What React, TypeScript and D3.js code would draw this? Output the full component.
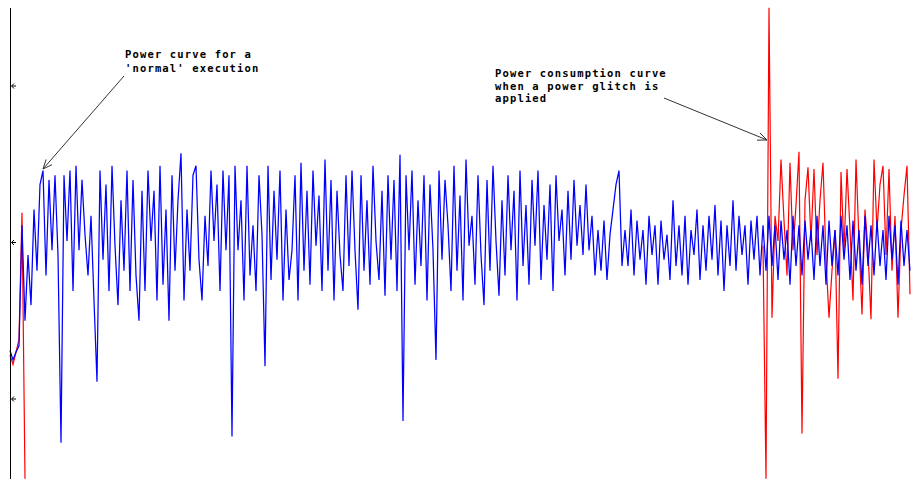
import React from "react";
import * as d3 from "d3";

// power trace samples (arbitrary units), one sample per time step
const blueValues = [
  81, 75, 80, 84, 161, 100, 142, 110, 171, 132,
  187, 196, 129, 190, 145, 193, 142, 22, 193, 151,
  196, 119, 199, 145, 190, 155, 129, 167, 113, 61,
  196, 139, 187, 119, 199, 148, 110, 177, 132, 196,
  119, 190, 129, 100, 183, 119, 196, 151, 183, 113,
  199, 123, 171, 100, 193, 132, 177, 207, 113, 171,
  132, 193, 199, 139, 113, 167, 135, 196, 151, 187,
  119, 196, 145, 193, 26, 199, 145, 177, 113, 199,
  129, 161, 119, 193, 155, 71, 199, 126, 183, 139,
  196, 113, 171, 126, 145, 193, 113, 201, 132, 183,
  123, 196, 148, 180, 119, 203, 132, 190, 113, 183,
  142, 119, 193, 135, 196, 145, 107, 193, 132, 177,
  123, 199, 151, 126, 183, 116, 193, 139, 190, 119,
  206, 36, 193, 145, 196, 123, 177, 135, 193, 113,
  187, 145, 75, 196, 139, 190, 161, 119, 199, 132,
  180, 113, 203, 148, 167, 123, 193, 142, 110, 190,
  132, 199, 151, 116, 177, 129, 193, 145, 183, 113,
  196, 135, 174, 123, 190, 148, 196, 126, 174, 139,
  187, 119, 193, 151, 171, 129, 183, 139, 190, 148,
  174, 142, 187, 145, 167, 129, 158, 132, 164, 126,
  155, 171, 187, 196, 135, 158, 135, 171, 129, 164,
  139, 158, 123, 167, 142, 161, 123, 164, 139, 155,
  126, 177, 135, 161, 129, 167, 123, 158, 142, 171,
  126, 161, 132, 167, 139, 174, 129, 164, 119, 161,
  135, 177, 132, 167, 142, 161, 123, 164, 139, 167,
  129, 161, 132, 167, 135, 161, 126, 164, 139, 158,
  123, 167, 135, 161, 129, 164, 139, 158, 126, 167,
  135, 161, 123, 164, 135, 158, 129, 167, 139, 161,
  126, 164, 132, 158, 123, 167, 135, 161, 129, 164,
  135, 158, 126, 167, 139, 161, 123, 164, 135, 158, 132,
];

// glitched run: only where it departs from the normal trace
const redStartIndex = 0;
const redStartValues = [78, 72, 80, 88, 169, -1];
const redGlitchIndex = 251;
const redGlitchValues = [
  148, -1, 300, 102, 167, 151, 203, 164, 129, 201,
  145, 174, 208, 28, 177, 198, 151, 197, 142, 177,
  201, 139, 102, 132, 158, 63, 195, 145, 197, 158,
  113, 203, 151, 104, 171, 145, 101, 203, 158, 187,
  199, 142, 197, 132, 167, 102, 158, 180, 199, 117,
];

const yTicks = [50, 150, 250];

const notes = [
  { lines: ["Power curve for a", "'normal' execution"], x: 125, y: 58, dy: 14, from: [124, 76], to: [43, 169] },
  { lines: ["Power consumption curve", "when a power glitch is", "applied"], x: 495, y: 77, dy: 12.5, from: [664, 98], to: [767, 140] },
];

const W = 912;
const H = 479;

const Arrow = ({ from, to }) => {
  const ang = Math.atan2(to[1] - from[1], to[0] - from[0]);
  const len = 10;
  const spread = 0.4;
  const a1 = [to[0] - len * Math.cos(ang - spread), to[1] - len * Math.sin(ang - spread)];
  const a2 = [to[0] - len * Math.cos(ang + spread), to[1] - len * Math.sin(ang + spread)];
  return (
    <g stroke="#333" strokeWidth={1} fill="none">
      <line x1={from[0]} y1={from[1]} x2={to[0]} y2={to[1]} />
      <path d={`M${a1[0]},${a1[1]}L${to[0]},${to[1]}L${a2[0]},${a2[1]}`} />
    </g>
  );
};

export default function App() {
  const x = d3.scaleLinear().domain([0, blueValues.length - 1]).range([10, 910]);
  const y = d3.scaleLinear().domain([0, 300]).range([477.25, 7.75]);

  const line = d3
    .line<[number, number]>()
    .x((d) => x(d[0]))
    .y((d) => y(d[1]));

  const blue = blueValues.map((v, i) => [i, v] as [number, number]);
  const redA = redStartValues.map((v, i) => [redStartIndex + i, v] as [number, number]);
  const redB = redGlitchValues.map((v, i) => [redGlitchIndex + i, v] as [number, number]);

  return (
    <svg width={W} height={H} style={{ position: "absolute", left: 0, top: 0, background: "#fff" }}>
      <path d={line(redA)} fill="none" stroke="#ff0000" strokeWidth={1.2} />
      <path d={line(redB)} fill="none" stroke="#ff0000" strokeWidth={1.2} />
      <path d={line(blue)} fill="none" stroke="#0000ff" strokeWidth={1.25} />

      <line x1={10.5} x2={10.5} y1={8} y2={H} stroke="#000" strokeWidth={1} />
      {yTicks.map((t) => (
        <path
          key={t}
          d={`M16,${y(t)}L12,${y(t)}M14,${y(t) - 2.5}L11.5,${y(t)}L14,${y(t) + 2.5}`}
          stroke="#000"
          strokeWidth={1}
          fill="none"
        />
      ))}

      {notes.map((n, k) => (
        <g key={k}>
          <text
            fontFamily="'DejaVu Sans Mono', monospace"
            fontWeight="bold"
            fontSize={10.5}
            letterSpacing={1.15}
            fill="#000"
          >
            {n.lines.map((l, j) => (
              <tspan key={j} x={n.x} y={n.y + j * n.dy}>
                {l}
              </tspan>
            ))}
          </text>
          <Arrow from={n.from} to={n.to} />
        </g>
      ))}
    </svg>
  );
}
